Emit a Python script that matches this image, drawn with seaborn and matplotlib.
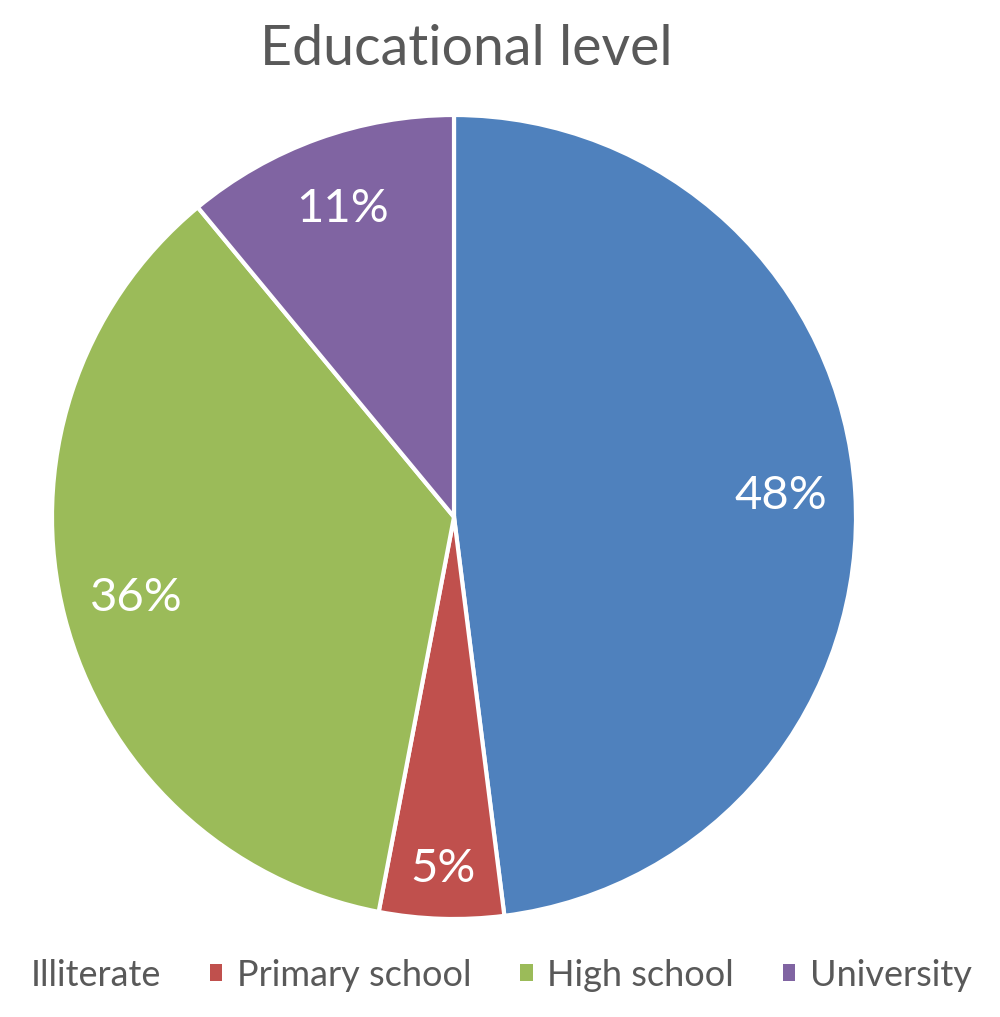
"""Pie chart of educational level shares."""

import matplotlib
matplotlib.use("Agg")
import matplotlib.pyplot as plt
import seaborn as sns
import numpy as np
from matplotlib.patches import Patch

# data
categories = ["Illiterate", "Primary school", "High school", "University"]
shares = [48, 5, 36, 11]
colors = ["#4F81BD", "#C0504D", "#9BBB59", "#8064A2"]
title = "Educational level"

sns.set_theme(style="white")
plt.rcParams["font.family"] = ["Lato", "DejaVu Sans"]
text_grey = "#595959"

fig = plt.figure(figsize=(10, 10.17), dpi=100)
ax = fig.add_axes([0.052, (1017 - 919) / 1017, 0.804, 804 / 1017])

wedges, texts, autotexts = ax.pie(
    shares,
    colors=colors,
    startangle=90,
    counterclock=False,
    autopct="%1.0f%%",
    pctdistance=0.815,
    wedgeprops=dict(edgecolor="white", linewidth=3),
    textprops=dict(color="white", fontsize=34),
)
ax.set_xlim(-1, 1)
ax.set_ylim(-1, 1)
ax.set_aspect("equal")

# small slice label sits a bit further out
w = wedges[1]
mid = np.deg2rad((w.theta1 + w.theta2) / 2)
autotexts[1].set_position((0.875 * np.cos(mid), 0.875 * np.sin(mid)))

fig.text(0.466, 0.951, title, ha="center", va="center", fontsize=40, color=text_grey)

handles = [Patch(facecolor=c, edgecolor="none") for c in colors]
handles[0].set_alpha(0)
leg = fig.legend(
    handles,
    categories,
    loc="center left",
    bbox_to_anchor=(-0.029, 0.041),
    ncol=4,
    frameon=False,
    fontsize=26,
    handlelength=0.35,
    handleheight=0.35,
    handletextpad=0.4,
    columnspacing=1.35,
)
for t in leg.get_texts():
    t.set_color(text_grey)

plt.savefig("out.png", dpi=100)
plt.close()
